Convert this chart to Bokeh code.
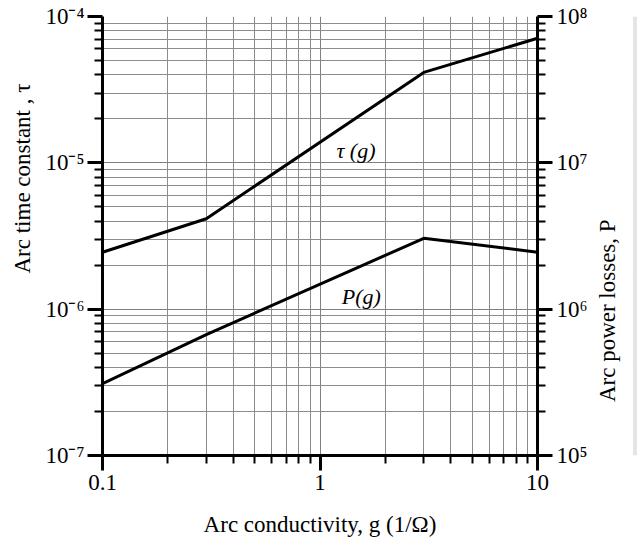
from bokeh.plotting import figure
from bokeh.layouts import row
from bokeh.models import LogAxis, LinearAxis, Range1d, FixedTicker
from bokeh.core.properties import value
from bokeh.embed import file_html
from bokeh.resources import INLINE

# ---- data ----
g_tau = [0.1, 0.3, 3.0, 10.0]
tau = [2.45e-6, 4.15e-6, 4.15e-5, 7.1e-5]

g_P = [0.1, 0.3, 3.0, 10.0]
P = [3.1e5, 6.7e5, 3.05e6, 2.45e6]

x_major = [0.1, 1, 10]
x_labels = ["0.1", "1", "10"]
tau_major = [1e-7, 1e-6, 1e-5, 1e-4]
tau_labels = ["10⁻⁷", "10⁻⁶", "10⁻⁵", "10⁻⁴"]
P_major = [1e5, 1e6, 1e7, 1e8]
P_labels = ["10⁵", "10⁶", "10⁷", "10⁸"]

curve_names = ["τ (g)", "P(g)"]
curve_label_g = [1.19, 1.26]
curve_label_tau = [1.21e-5, 1.22e-6]

x_title = "Arc conductivity, g (1/Ω)"
left_title = "Arc time constant , τ"
right_title = "Arc power losses, P"

FONT = "Liberation Serif"
EM, EN = "\u2003", "\u2002"
H = 542
TOP, BOT = 16, 87


def minors(majors):
    out = []
    for m in majors[:-1]:
        out += [m * k for k in range(2, 10)]
    return out


# ---- main chart ----
p = figure(width=591, height=H, x_axis_type="log", y_axis_type="log",
           x_range=Range1d(0.1, 10), y_range=Range1d(1e-7, 1e-4),
           output_backend="svg", toolbar_location=None,
           min_border_left=102, min_border_right=54, min_border_top=TOP,
           min_border_bottom=BOT)
p.extra_y_ranges = {"P": Range1d(1e5, 1e8)}
p.outline_line_color = None
p.background_fill_color = "white"

xt = FixedTicker(ticks=x_major, minor_ticks=minors(x_major))
yt = FixedTicker(ticks=tau_major, minor_ticks=minors(tau_major))
pt = FixedTicker(ticks=P_major, minor_ticks=minors(P_major))

left = p.yaxis[0]
bottom = p.xaxis[0]
bottom.ticker = xt
left.ticker = yt
p.xgrid.ticker = xt
p.ygrid.ticker = yt

for gr in (p.xgrid, p.ygrid):
    gr.grid_line_color = "#808080"
    gr.grid_line_width = 1
    gr.minor_grid_line_color = "#8c8c8c"
    gr.minor_grid_line_width = 1

right = LogAxis(y_range_name="P", ticker=pt)
p.add_layout(right, "right")

bottom.major_label_overrides = dict(zip(x_major, x_labels))
left.major_label_overrides = dict(zip(tau_major, tau_labels))
right.major_label_overrides = dict(zip(P_major, P_labels))

for ax in (bottom, left, right):
    ax.axis_line_color = "black"
    ax.axis_line_width = 3
    ax.major_tick_line_color = "black"
    ax.major_tick_line_width = 3
    ax.minor_tick_line_color = "black"
    ax.minor_tick_line_width = 2
    ax.major_tick_out = 15
    ax.major_tick_in = 0
    ax.minor_tick_out = 8
    ax.minor_tick_in = 0
    ax.major_label_text_font = FONT
    ax.major_label_text_font_size = "23px"
    ax.major_label_text_color = "black"
    ax.axis_label_text_font = FONT
    ax.axis_label_text_font_size = "23px"
    ax.axis_label_text_font_style = "normal"
    ax.axis_label_text_color = "black"

bottom.axis_label = x_title
bottom.major_label_standoff = 4
bottom.axis_label_standoff = 19

# leading padding moves the title up along the axis, as in the reference
left.axis_label = EM * 5 + left_title
left.major_label_standoff = 3
left.axis_label_standoff = 7
right.major_label_standoff = 4

p.line(g_tau, tau, line_color="black", line_width=3)
p.line(g_P, P, y_range_name="P", line_color="black", line_width=3)

p.text(x=curve_label_g, y=curve_label_tau, text=curve_names,
       text_font=value(FONT), text_font_size="22px",
       text_font_style="italic", text_color="black",
       text_align="left", text_baseline="alphabetic")

# ---- strip on the right carrying the right-hand title (reads upwards) ----
pR = figure(width=46, height=H, x_range=Range1d(0, 1), y_range=Range1d(0, 1),
            output_backend="svg", toolbar_location=None,
            x_axis_location=None, y_axis_location=None,
            min_border_left=40, min_border_right=0,
            min_border_top=TOP, min_border_bottom=BOT)
pR.outline_line_color = None
pR.background_fill_color = "white"
ra = LinearAxis(ticker=FixedTicker(ticks=[]))
ra.axis_line_color = None
ra.major_tick_line_color = None
ra.minor_tick_line_color = None
ra.major_tick_out = 0
ra.minor_tick_out = 0
ra.major_label_standoff = 0
# trailing padding moves the title down along the axis, as in the reference
ra.axis_label = right_title + EM * 6 + EN
ra.axis_label_text_font = FONT
ra.axis_label_text_font_size = "23px"
ra.axis_label_text_font_style = "normal"
ra.axis_label_text_color = "black"
ra.axis_label_standoff = 13
pR.add_layout(ra, "left")
pR.scatter(x=[0.5], y=[0.5], size=1, alpha=0)

layout = row(p, pR, spacing=0)
open("out.html", "w").write(file_html(layout, INLINE))
